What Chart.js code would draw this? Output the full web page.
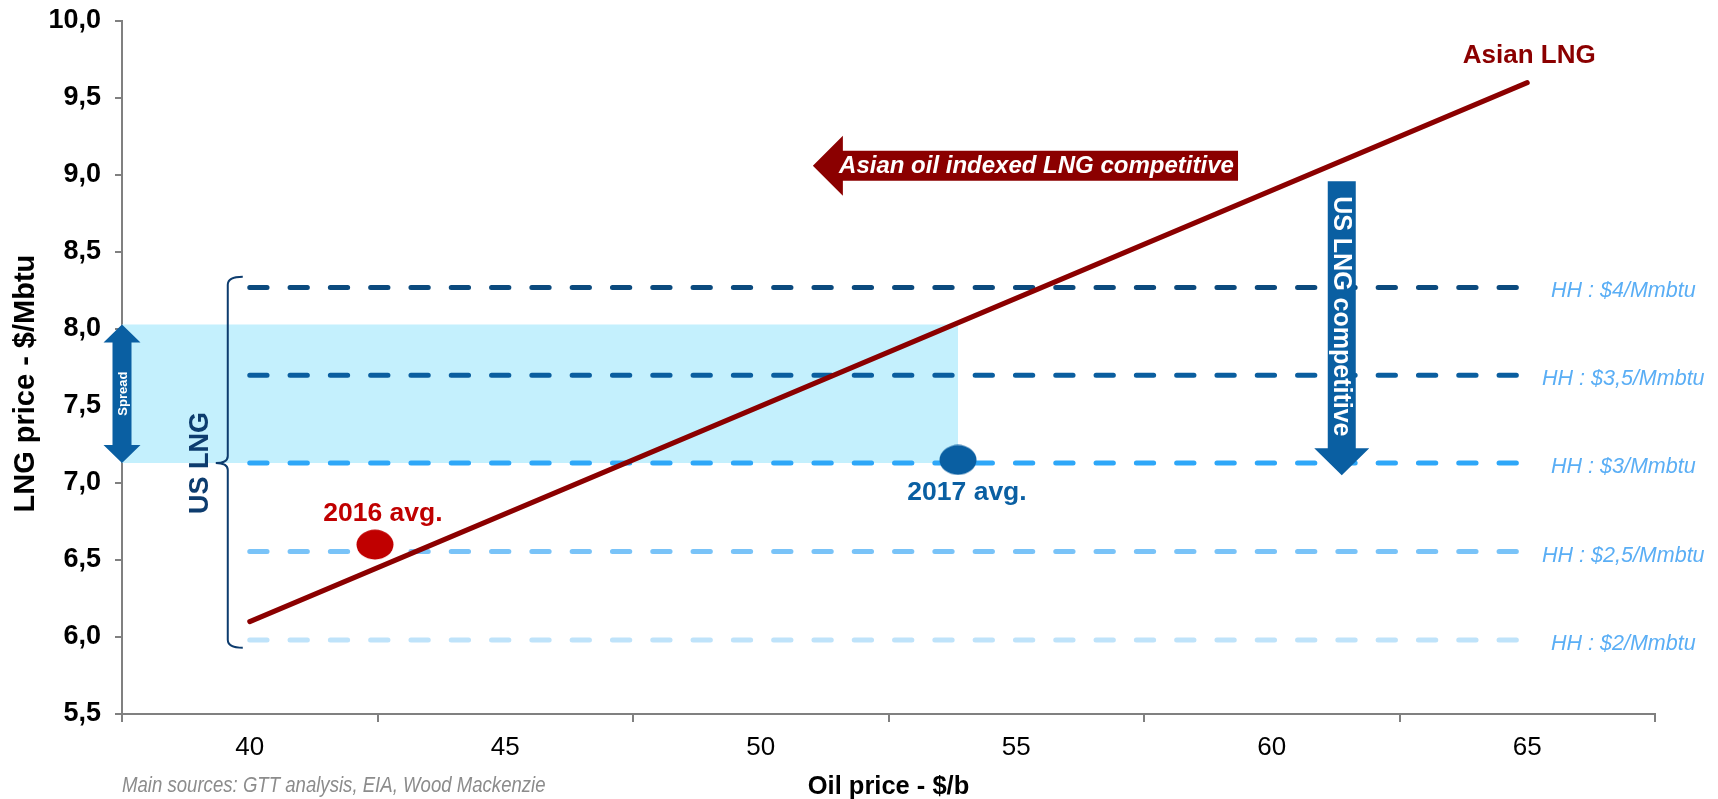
<!DOCTYPE html>
<html>
<head>
<meta charset="utf-8">
<script src="https://cdn.jsdelivr.net/npm/chart.js@4.4.1/dist/chart.umd.min.js"></script>
<style>
  html, body { margin: 0; padding: 0; background: #ffffff; }
  #wrap { width: 1718px; height: 799px; position: relative; }
</style>
</head>
<body>
<div id="wrap"><canvas id="c" width="1718" height="799"></canvas></div>
<script>
// Oil price ($/b) on the x axis, LNG price ($/Mbtu) on the y axis
const oilTickLabels = [40, 45, 50, 55, 60, 65];

// Asian oil-indexed LNG price line
const asianLngOil = [40, 65];
const asianLngPrice = [6.1, 9.6];

// US LNG delivered cost for several Henry Hub prices
const hhLabels = ['HH : $4/Mmbtu', 'HH : $3,5/Mmbtu', 'HH : $3/Mmbtu', 'HH : $2,5/Mmbtu', 'HH : $2/Mmbtu'];
const hhLngPrice = [8.27, 7.7, 7.13, 6.555, 5.98];
const hhOilRange = [40, 65];
const hhColors = ['#0b4a7e', '#0a5e9f', '#2ea7f8', '#79c3f8', '#bfe3fa'];

// Yearly averages
const avgLabels = ['2016 avg.', '2017 avg.'];
const avgOil = [42.45, 53.86];
const avgLng = [6.6, 7.15];
const avgColors = ['#c00000', '#0a5fa2'];

// Spread band: from the HH $3 cost up to the Asian LNG price at the 2017 average
const spreadOil = [37.5, 53.86];
const spreadLng = [7.13, 8.03];

const FONT = '"Liberation Sans", Arial, sans-serif';

function ellipseMarker(color) {
  const c = document.createElement('canvas');
  c.width = 38; c.height = 31;
  const g = c.getContext('2d');
  g.fillStyle = color;
  g.beginPath();
  g.ellipse(19, 15.5, 18.5, 15, 0, 0, Math.PI * 2);
  g.fill();
  return c;
}

// tick boundaries sit halfway between the labelled values
const oilTickValues = Array.from(new Set(
  oilTickLabels.flatMap(v => [v - 2.5, v, v + 2.5])
)).sort((a, b) => a - b);

const annotations = {
  id: 'annotations',
  afterDatasetsDraw(chart) {
    const { ctx, scales: { x, y }, chartArea } = chart;
    ctx.save();

    // US LNG brace
    const xb = x.getPixelForValue(39.57);
    const yT = y.getPixelForValue(8.34);
    const yB = y.getPixelForValue(5.93);
    const yM = y.getPixelForValue(hhLngPrice[2]);
    ctx.strokeStyle = '#0d3c6e';
    ctx.lineWidth = 2;
    ctx.beginPath();
    ctx.moveTo(xb + 15, yT);
    ctx.quadraticCurveTo(xb, yT, xb, yT + 8);
    ctx.lineTo(xb, yM - 7);
    ctx.quadraticCurveTo(xb, yM, xb - 12, yM);
    ctx.quadraticCurveTo(xb, yM, xb, yM + 7);
    ctx.lineTo(xb, yB - 8);
    ctx.quadraticCurveTo(xb, yB, xb + 15, yB);
    ctx.stroke();

    ctx.save();
    ctx.translate(x.getPixelForValue(39.03), yM);
    ctx.rotate(-Math.PI / 2);
    ctx.fillStyle = '#0d3c6e';
    ctx.font = 'bold 27px ' + FONT;
    ctx.textAlign = 'center';
    ctx.textBaseline = 'middle';
    ctx.fillText('US LNG', 0, 0);
    ctx.restore();

    // Spread double arrow
    const sx = x.getPixelForValue(spreadOil[0]);
    const sTop = y.getPixelForValue(spreadLng[1]);
    const sBot = y.getPixelForValue(spreadLng[0]);
    ctx.fillStyle = '#0a5fa2';
    ctx.beginPath();
    ctx.moveTo(sx, sTop);
    ctx.lineTo(sx + 18.5, sTop + 18);
    ctx.lineTo(sx + 9.5, sTop + 18);
    ctx.lineTo(sx + 9.5, sBot - 18);
    ctx.lineTo(sx + 18.5, sBot - 18);
    ctx.lineTo(sx, sBot);
    ctx.lineTo(sx - 18.5, sBot - 18);
    ctx.lineTo(sx - 9.5, sBot - 18);
    ctx.lineTo(sx - 9.5, sTop + 18);
    ctx.lineTo(sx - 18.5, sTop + 18);
    ctx.closePath();
    ctx.fill();
    ctx.save();
    ctx.translate(sx, (sTop + sBot) / 2);
    ctx.rotate(-Math.PI / 2);
    ctx.fillStyle = '#ffffff';
    ctx.font = 'bold 13px ' + FONT;
    ctx.textAlign = 'center';
    ctx.textBaseline = 'middle';
    ctx.fillText('Spread', 0, 1);
    ctx.restore();

    // Asian oil indexed LNG competitive (arrow pointing to lower oil prices)
    const hTip = x.getPixelForValue(51.02);
    const hTail = x.getPixelForValue(59.34);
    const hY = y.getPixelForValue(9.06);
    ctx.fillStyle = '#8b0000';
    ctx.beginPath();
    ctx.moveTo(hTip, hY);
    ctx.lineTo(hTip + 30, hY - 30);
    ctx.lineTo(hTip + 30, hY - 15);
    ctx.lineTo(hTail, hY - 15);
    ctx.lineTo(hTail, hY + 15);
    ctx.lineTo(hTip + 30, hY + 15);
    ctx.lineTo(hTip + 30, hY + 30);
    ctx.closePath();
    ctx.fill();
    ctx.fillStyle = '#ffffff';
    ctx.font = 'italic bold 24px ' + FONT;
    ctx.textAlign = 'center';
    ctx.textBaseline = 'middle';
    ctx.fillText('Asian oil indexed LNG competitive', (hTip + 30 + hTail) / 2 - 4, hY + 1);

    // US LNG competitive (arrow pointing to lower LNG prices)
    const vX = x.getPixelForValue(61.37);
    const vTop = y.getPixelForValue(8.96);
    const vTip = y.getPixelForValue(7.05);
    ctx.fillStyle = '#0a5fa2';
    ctx.beginPath();
    ctx.moveTo(vX - 14, vTop);
    ctx.lineTo(vX + 14, vTop);
    ctx.lineTo(vX + 14, vTip - 27);
    ctx.lineTo(vX + 27.5, vTip - 27);
    ctx.lineTo(vX, vTip);
    ctx.lineTo(vX - 27.5, vTip - 27);
    ctx.lineTo(vX - 14, vTip - 27);
    ctx.closePath();
    ctx.fill();
    ctx.save();
    ctx.translate(vX, vTop + 15);
    ctx.rotate(Math.PI / 2);
    ctx.fillStyle = '#ffffff';
    ctx.font = 'bold 25px ' + FONT;
    ctx.textAlign = 'left';
    ctx.textBaseline = 'middle';
    ctx.fillText('US LNG competitive', 0, 1);
    ctx.restore();

    // Series and point labels
    ctx.textAlign = 'center';
    ctx.textBaseline = 'middle';
    ctx.font = 'bold 26px ' + FONT;
    ctx.fillStyle = '#8b0000';
    ctx.fillText('Asian LNG', x.getPixelForValue(asianLngOil[1]) + 2, y.getPixelForValue(asianLngPrice[1]) - 27);

    ctx.font = 'bold 26.5px ' + FONT;
    ctx.fillStyle = avgColors[0];
    ctx.fillText(avgLabels[0], x.getPixelForValue(avgOil[0]) + 8, y.getPixelForValue(avgLng[0]) - 31);
    ctx.fillStyle = avgColors[1];
    ctx.fillText(avgLabels[1], x.getPixelForValue(avgOil[1]) + 9, y.getPixelForValue(avgLng[1]) + 33);

    // Henry Hub labels
    ctx.font = 'italic 21.5px ' + FONT;
    ctx.fillStyle = '#5aaef5';
    hhLabels.forEach((t, i) => {
      ctx.fillText(t, x.getPixelForValue(66.88), y.getPixelForValue(hhLngPrice[i]) + 4);
    });

    // Source note, set in a condensed width
    ctx.save();
    ctx.translate(chartArea.left, 786);
    ctx.scale(0.845, 1);
    ctx.font = 'italic 22px ' + FONT;
    ctx.fillStyle = '#8c8c8c';
    ctx.textAlign = 'left';
    ctx.fillText('Main sources: GTT analysis, EIA, Wood Mackenzie', 0, 0);
    ctx.restore();

    ctx.restore();
  }
};

const datasets = [
  {
    label: 'avg',
    data: avgOil.map((v, i) => ({ x: v, y: avgLng[i] })),
    showLine: false,
    pointStyle: avgColors.map(c => ellipseMarker(c)),
    pointRadius: 18,
    order: 0
  },
  {
    label: 'Asian LNG',
    data: asianLngOil.map((v, i) => ({ x: v, y: asianLngPrice[i] })),
    borderColor: '#8b0000',
    borderWidth: 5,
    borderCapStyle: 'round',
    pointRadius: 0,
    fill: false,
    order: 1
  },
  ...hhLngPrice.map((p, i) => ({
    label: hhLabels[i],
    data: hhOilRange.map(v => ({ x: v, y: p })),
    borderColor: hhColors[i],
    borderWidth: 5,
    borderDash: [17.3, 23],
    borderCapStyle: 'round',
    pointRadius: 0,
    fill: false,
    order: 2
  })),
  {
    label: 'Spread',
    data: spreadOil.map(v => ({ x: v, y: spreadLng[1] })),
    borderColor: 'rgba(0,0,0,0)',
    borderWidth: 0,
    backgroundColor: '#c4f0fd',
    pointRadius: 0,
    fill: { value: spreadLng[0] },
    order: 3
  }
];

new Chart(document.getElementById('c'), {
  type: 'line',
  data: { datasets },
  plugins: [annotations],
  options: {
    responsive: false,
    animation: false,
    layout: { padding: { left: 0, right: 63, top: 21, bottom: 0 } },
    plugins: { legend: { display: false }, tooltip: { enabled: false } },
    scales: {
      x: {
        type: 'linear',
        min: 37.5,
        max: 67.5,
        afterFit(s) { s.height = 85; s.paddingLeft = 0; s.paddingRight = 0; },
        afterBuildTicks(s) { s.ticks = oilTickValues.map(v => ({ value: v })); },
        ticks: {
          autoSkip: false,
          maxRotation: 0,
          padding: 10,
          color: '#000000',
          font: { family: FONT, size: 26 },
          callback: v => oilTickLabels.includes(v) ? String(v) : ''
        },
        grid: {
          drawOnChartArea: false,
          tickLength: 8,
          lineWidth: 2,
          color: c => (c.tick && oilTickLabels.includes(c.tick.value)) ? 'rgba(0,0,0,0)' : '#808080'
        },
        border: { color: '#808080', width: 2 },
        title: {
          display: true,
          text: 'Oil price - $/b',
          color: '#000000',
          font: { family: FONT, size: 25.5, weight: 'bold' },
          padding: { top: 0, bottom: -3 }
        }
      },
      y: {
        min: 5.5,
        max: 10,
        afterFit(s) { s.width = 122; s.paddingTop = 0; s.paddingBottom = 0; },
        ticks: {
          stepSize: 0.5,
          padding: 14,
          color: '#000000',
          font: { family: FONT, size: 27, weight: 'bold' },
          callback: v => v.toFixed(1).replace('.', ',')
        },
        grid: { drawOnChartArea: false, tickLength: 7, lineWidth: 2, color: '#808080' },
        border: { color: '#808080', width: 2 },
        title: {
          display: true,
          text: 'LNG price - $/Mbtu    ',
          color: '#000000',
          font: { family: FONT, size: 29, weight: 'bold' },
          padding: { top: 9, bottom: 0 }
        }
      }
    }
  }
});
</script>
</body>
</html>
